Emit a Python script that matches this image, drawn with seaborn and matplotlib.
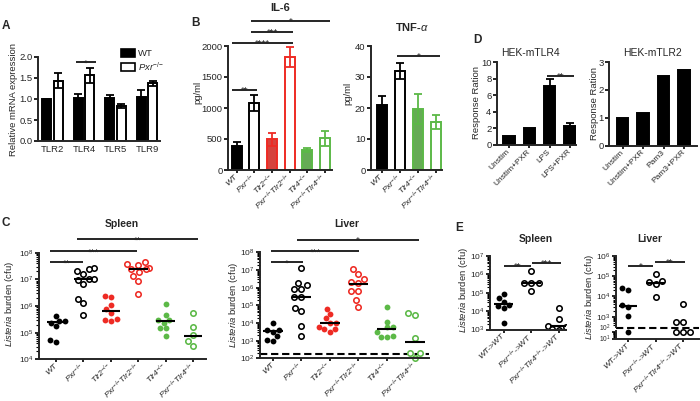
import numpy as np
import pandas as pd
import matplotlib
matplotlib.use("Agg")
import matplotlib.pyplot as plt
import seaborn as sns
from matplotlib.ticker import LogLocator, NullFormatter
from matplotlib.patches import Patch

# ---------------- data ----------------
A_genes = ["TLR2", "TLR4", "TLR5", "TLR9"]
A_wt = [1.00, 1.02, 1.03, 1.05]
A_wt_err = [0.005, 0.10, 0.06, 0.17]
A_pxr = [1.43, 1.56, 0.83, 1.37]
A_pxr_err = [0.18, 0.18, 0.04, 0.06]

KO = r"$^{{-}/{-}}$"
B_groups = ["WT", "Pxr", "Tlr2", "PxrTlr2", "Tlr4", "PxrTlr4"]
B_labels = ["WT", "Pxr" + KO, "Tlr2" + KO, "Pxr" + KO + "Tlr2" + KO,
            "Tlr4" + KO, "Pxr" + KO + "Tlr4" + KO]
IL6_vals = [390, 1075, 495, 1825, 330, 510]
IL6_err = [55, 130, 105, 160, 32, 120]

TNF_groups = ["WT", "Pxr", "Tlr4", "PxrTlr4"]
TNF_labels = ["WT", "Pxr" + KO, "Tlr4" + KO, "Pxr" + KO + "Tlr4" + KO]
TNF_vals = [20.9, 31.9, 19.7, 15.5]
TNF_err = [3.0, 2.6, 4.8, 2.2]

D1_conds = ["Unstim", "Unstim+PXR", "LPS", "LPS+PXR"]
D1_vals = [1.1, 2.0, 7.15, 2.33]
D1_err = [0.0, 0.0, 0.8, 0.37]
D2_conds = ["Unstim", "Unstim+PXR", "Pam3", "Pam3+PXR"]
D2_vals = [1.0, 1.17, 2.51, 2.73]

# C: Listeria burden (cfu)
spleen_WT = [2.8e5, 4.4e5, 2.3e5, 1.8e5, 2.75e5, 4.4e4, 5.4e4]
spleen_Pxr = [2.75e7, 2.0e7, 2.4e7, 1.55e7, 1.0e7, 1.02e7, 0.98e7, 6.8e6, 1.8e6, 1.25e6, 4.7e5]
spleen_Tlr2 = [2.4e6, 2.25e6, 1.1e6, 7.8e5, 3.2e5, 2.75e5, 3.0e5, 5.6e5]
spleen_PxrTlr2 = [4.4e7, 3.7e7, 3.4e7, 2.6e7, 2.4e7, 2.4e7, 1.86e7, 1.35e7, 8.9e6, 2.75e6]
spleen_Tlr4 = [1.2e6, 4.7e5, 3.0e5, 3.0e5, 2.4e5, 1.55e5, 1.48e5, 7.6e4]
spleen_PxrTlr4 = [5.4e5, 1.7e5, 8.3e4, 5.0e4, 3.2e4]
spleen_medians = [2.6e5, 1.0e7, 6.6e5, 2.5e7, 2.7e5, 7.8e4]

liver_WT = [1.0e4, 4.0e3, 3.2e3, 4.0e3, 1.0e3, 1.1e3, 1.8e3]
liver_Pxr = [1.35e7, 1.4e6, 1.8e6, 8.1e5, 8.1e5, 3.1e5, 3.1e5, 4.8e4, 7.4e4, 6.8e3, 1.8e3]
liver_Tlr2 = [6.2e4, 3.2e4, 1.8e4, 1.05e4, 1.0e4, 5.6e3, 4.4e3, 4.4e3, 3.2e3]
liver_PxrTlr2 = [1.1e7, 5.6e6, 3.0e6, 2.2e6, 1.8e6, 6.5e5, 6.5e5, 2.0e5, 8.3e4]
liver_Tlr4 = [8.3e4, 1.2e4, 5.6e3, 5.6e3, 3.2e3, 1.7e3, 1.7e3, 1.8e3]
liver_PxrTlr4 = [3.8e4, 2.8e4, 1.5e3, 200, 200, 100]
liver_medians = [3.5e3, 3.1e5, 1.05e4, 1.6e6, 4.5e3, 8.5e2]
liver_limit = 175

# E: bone-marrow chimeras
E_groups = ["WT>WT", "Pxr>WT", "PxrTlr4>WT"]
E_labels = ["WT->WT", "Pxr" + KO + "->WT", "Pxr" + KO + "Tlr4" + KO + "->WT"]
Esp_WT = [9.1e4, 5.5e4, 3.2e4, 2.1e4, 1.85e4, 1.4e4, 2.4e3]
Esp_Pxr = [1.5e6, 3.2e5, 3.2e5, 3.4e5, 1.26e5]
Esp_PxrTlr4 = [1.4e4, 3.6e3, 1.8e3, 1.4e3, 1.6e3, 1.0e3, 1.05e3]
Esp_medians = [2.3e4, 3.2e5, 1.5e3]
Eli_WT = [2.7e4, 2.1e4, 3.1e3, 3.7e3, 1.07e3, 110]
Eli_Pxr = [1.25e5, 5.0e4, 4.0e4, 6.0e4, 9.8e3]
Eli_PxrTlr4 = [4.1e3, 560, 560, 110, 110, 110]
Eli_medians = [3.2e3, 4.8e4, None]
Eli_limit = 10 ** 2.42

# ---------------- style ----------------
sns.set_theme(style="ticks")
plt.rcParams["font.family"] = ["Liberation Sans", "DejaVu Sans"]
plt.rcParams["mathtext.fontset"] = "custom"
plt.rcParams["mathtext.rm"] = "Liberation Sans"
plt.rcParams["mathtext.it"] = "Liberation Sans:italic"
plt.rcParams["mathtext.bf"] = "Liberation Sans:bold"
plt.rcParams["axes.linewidth"] = 1.4

RED = "#ee2b24"
GREEN = "#5cb947"
W, H = 700, 401
FS = 6.8
FSLOG = 6.0
FSX = 6.0

fig = plt.figure(figsize=(7.0, 4.01), dpi=100)


def axpx(x0, y0, x1, y1):
    return fig.add_axes([x0 / W, 1 - y1 / H, (x1 - x0) / W, (y1 - y0) / H])


def style(ax, bottom=True, ysize=FS):
    sns.despine(ax=ax)
    ax.spines["left"].set_linewidth(1.4)
    ax.spines["bottom"].set_linewidth(1.4)
    if not bottom:
        ax.spines["bottom"].set_visible(False)
    ax.tick_params(axis="both", which="major", length=3, width=1.2,
                   labelsize=ysize, pad=1, direction="out", color="black")
    ax.set_xlabel("")
    ax.set_ylabel("")


def ftext(x, y, s, **kw):
    fig.text(x / W, 1 - y / H, s, ha="center", va="center", **kw)


def sig(ax, x1, x2, y, s):
    ax.plot([x1, x2], [y, y], color="black", lw=1.2, clip_on=False,
            solid_capstyle="butt")
    ax.annotate(s, xy=((x1 + x2) / 2, y), xytext=(0, -2.3),
                textcoords="offset points", ha="center", va="baseline",
                fontsize=FS, annotation_clip=False)


def xlabels(ax, labels, italic=True):
    ax.set_xticks(range(len(labels)))
    ax.set_xticklabels(labels, rotation=45, ha="right", va="center",
                       rotation_mode="anchor",
                       fontstyle="italic" if italic else "normal", fontsize=FSX)
    ax.tick_params(axis="x", length=2.5, pad=1.5)


def log_axis(ax, lo, hi):
    ax.set_yscale("log")
    ax.set_ylim(lo, hi)
    ax.yaxis.set_major_locator(LogLocator(base=10, numticks=20))
    ax.yaxis.set_minor_locator(LogLocator(base=10, subs=np.arange(2, 10), numticks=20))
    ax.yaxis.set_minor_formatter(NullFormatter())
    ax.tick_params(axis="y", which="minor", length=2.0, width=0.8, color="black")


def bar_panel(ax, keys, vals, errs, fills, edges, width):
    df = pd.DataFrame({"g": keys, "v": vals})
    sns.barplot(data=df, x="g", y="v", hue="g", order=keys, hue_order=keys,
                palette=dict(zip(keys, fills)), legend=False, width=width,
                linewidth=1.4, edgecolor="black", errorbar=None, ax=ax)
    for p, ec in zip(ax.patches, edges):
        p.set_edgecolor(ec)
    for i, (v, e) in enumerate(zip(vals, errs)):
        if e > 0:
            ax.errorbar(i, v, yerr=e, fmt="none", ecolor=edges[i], elinewidth=1.3,
                        capsize=2.6, capthick=1.3, zorder=3)


def swarm_panel(ax, keys, lists, colors, filled, medians):
    for k, vals, c, f in zip(keys, lists, colors, filled):
        if len(vals):
            df = pd.DataFrame({"g": [k] * len(vals), "v": vals})
            if f:
                sns.swarmplot(data=df, x="g", y="v", order=keys, color=c, size=4.2,
                              linewidth=0, log_scale=True, ax=ax, zorder=2)
            else:
                sns.swarmplot(data=df, x="g", y="v", order=keys, color="white",
                              edgecolor=c, linewidth=1.15, size=3.9,
                              log_scale=True, ax=ax, zorder=2)
    for i, m in enumerate(medians):
        if m is not None:
            ax.hlines(m, i - 0.34, i + 0.34, color="black", lw=1.5, zorder=4)


# ---------------- Panel A ----------------
axA = axpx(38, 57, 160, 141)
dfA = pd.DataFrame({"gene": A_genes * 2, "geno": ["WT"] * 4 + ["Pxr"] * 4,
                    "val": A_wt + A_pxr})
sns.barplot(data=dfA, x="gene", y="val", hue="geno", hue_order=["WT", "Pxr"],
            palette={"WT": "black", "Pxr": "white"}, edgecolor="black",
            linewidth=1.4, width=0.73, gap=0.2, errorbar=None, legend=False, ax=axA)
for p, v, e in zip(axA.patches, A_wt + A_pxr, A_wt_err + A_pxr_err):
    axA.errorbar(p.get_x() + p.get_width() / 2, v, yerr=e, fmt="none",
                 ecolor="black", elinewidth=1.3, capsize=2.6, capthick=1.3, zorder=3)
axA.set_ylim(0, 2.0)
axA.set_yticks([0, 0.5, 1.0, 1.5, 2.0])
axA.set_yticklabels(["0.0", "0.5", "1.0", "1.5", "2.0"])
axA.set_xlim(-0.46, 3.41)
style(axA)
axA.tick_params(axis="x", length=0, pad=3)
sig(axA, 0.75, 1.38, 1.87, "*")
leg = axA.legend(handles=[Patch(fc="black", ec="black", lw=1.2),
                          Patch(fc="white", ec="black", lw=1.2)],
                 labels=["WT", "Pxr" + KO], loc="upper left",
                 bbox_to_anchor=(121 / W, 1 - 49 / H), bbox_transform=fig.transFigure,
                 frameon=False, fontsize=FS, handlelength=1.5, handleheight=0.85,
                 handletextpad=0.25, labelspacing=0.2, borderpad=0, borderaxespad=0)
leg.get_texts()[1].set_fontstyle("italic")

# ---------------- Panel B ----------------
axB = axpx(228, 46, 332, 170)
bar_panel(axB, B_groups, IL6_vals, IL6_err,
          ["black", "white", RED, "white", GREEN, "white"],
          ["black", "black", RED, RED, GREEN, GREEN], 0.56)
axB.set_ylim(0, 2000)
axB.set_yticks([0, 500, 1000, 1500, 2000])
axB.set_xlim(-0.49, 5.4)
style(axB)
xlabels(axB, B_labels)
sig(axB, -0.27, 1.15, 1290, "**")
sig(axB, -0.25, 3.2, 2048, "****")
sig(axB, 0.81, 3.2, 2226, "***")
sig(axB, 0.81, 5.27, 2403, "*")

axT = axpx(371, 46, 442, 170)
bar_panel(axT, TNF_groups, TNF_vals, TNF_err,
          ["black", "white", GREEN, "white"],
          ["black", "black", GREEN, GREEN], 0.56)
axT.set_ylim(0, 40)
axT.set_yticks([0, 10, 20, 30, 40])
axT.set_xlim(-0.6, 3.36)
style(axT)
xlabels(axT, TNF_labels)
sig(axT, 0.87, 3.26, 36.8, "*")

# ---------------- Panel D ----------------
axD1 = axpx(497, 62, 576, 145)
bar_panel(axD1, D1_conds, D1_vals, D1_err, ["black"] * 4, ["black"] * 4, 0.57)
axD1.set_ylim(0, 10)
axD1.set_yticks([0, 2, 4, 6, 8, 10])
axD1.set_xlim(-0.59, 3.3)
style(axD1)
xlabels(axD1, D1_conds, italic=False)
sig(axD1, 1.86, 3.2, 8.34, "**")

axD2 = axpx(609, 62, 697, 145.5)
bar_panel(axD2, D2_conds, D2_vals, [0, 0, 0, 0], ["black"] * 4, ["black"] * 4, 0.57)
axD2.set_ylim(0, 3)
axD2.set_yticks([0, 1, 2, 3])
axD2.set_xlim(-0.66, 3.63)
style(axD2)
xlabels(axD2, D2_conds, italic=False)

# ---------------- Panel C ----------------
C_colors = ["black", "black", RED, RED, GREEN, GREEN]
C_filled = [True, False, True, False, True, False]

axCS = axpx(39, 252.7, 206, 359.3)
swarm_panel(axCS, B_groups,
            [spleen_WT, spleen_Pxr, spleen_Tlr2, spleen_PxrTlr2, spleen_Tlr4, spleen_PxrTlr4],
            C_colors, C_filled, spleen_medians)
log_axis(axCS, 1e4, 1e8)
axCS.set_xlim(-0.62, 5.47)
style(axCS, ysize=FSLOG)
xlabels(axCS, B_labels)
sig(axCS, -0.22, 0.98, 4.4e7, "**")
sig(axCS, -0.22, 2.97, 1.15e8, "***")
sig(axCS, 0.76, 5.18, 3.2e8, "**")

axCL = axpx(260, 252.3, 429, 358.3)
swarm_panel(axCL, B_groups,
            [liver_WT, liver_Pxr, liver_Tlr2, liver_PxrTlr2, liver_Tlr4, liver_PxrTlr4],
            C_colors, C_filled, liver_medians)
log_axis(axCL, 1e2, 1e8)
axCL.set_xlim(-0.46, 5.49)
axCL.axhline(liver_limit, color="black", lw=1.5, ls=(0, (3.5, 1.8)), zorder=1)
style(axCL, ysize=FSLOG)
xlabels(axCL, B_labels)
for c in axCL.collections:
    c.set_clip_on(False)
sig(axCL, -0.08, 1.05, 2.7e7, "*")
sig(axCL, -0.08, 3.03, 1.17e8, "***")
sig(axCL, 0.83, 5.15, 5.0e8, "*")

# ---------------- Panel E ----------------
axES = axpx(490, 256, 566, 329.5)
swarm_panel(axES, E_groups, [Esp_WT, Esp_Pxr, Esp_PxrTlr4],
            ["black"] * 3, [True, False, False], Esp_medians)
log_axis(axES, 1e3, 1e7)
axES.set_xlim(-0.49, 2.25)
style(axES, ysize=FSLOG)
xlabels(axES, E_labels)
sig(axES, 0.0, 0.98, 2.95e6, "**")
sig(axES, 1.01, 2.07, 4.3e6, "***")

cut = 300
axEU = axpx(616, 256, 699, 326.7)
axEL = axpx(616, 331, 699, 339)
E_li = [Eli_WT, Eli_Pxr, Eli_PxrTlr4]
swarm_panel(axEU, E_groups, [[v for v in l if v >= cut] for l in E_li],
            ["black"] * 3, [True, False, False], Eli_medians)
swarm_panel(axEL, E_groups, [[v for v in l if v < cut] for l in E_li],
            ["black"] * 3, [True, False, False], [None, None, None])
log_axis(axEU, 10 ** 2.5, 1e6)
log_axis(axEL, 10, 10 ** 2.14)
for a in (axEU, axEL):
    a.set_xlim(-0.44, 2.58)
    for c in a.collections:
        c.set_clip_on(False)
style(axEU, bottom=False, ysize=FSLOG)
axEU.set_xticks([])
style(axEL, ysize=4.8)
axEL.set_yticks([10, 100])
axEL.tick_params(axis="y", pad=0.5)
xlabels(axEL, E_labels)
ylbls = axEL.get_yticklabels()
ylbls[0].set_va("center")
ylbls[1].set_va("baseline")
axEU.axhline(Eli_limit, color="black", lw=1.5, ls=(0, (3.5, 1.8)), clip_on=False, zorder=1)
sig(axEU, 0.0, 0.92, 3.3e5, "*")
sig(axEU, 0.98, 2.07, 5.2e5, "**")

# ---------------- texts ----------------
for s, x, y in [("A", 6, 26), ("B", 195, 23), ("C", 5.5, 223), ("D", 477, 40), ("E", 459, 228)]:
    ftext(x, y, s, fontsize=8.5, fontweight="bold")
ftext(280, 8, "IL-6", fontsize=8, fontweight="bold")
ftext(412, 27, r"TNF-$\alpha$", fontsize=8, fontweight="bold")
ftext(530, 53.5, "HEK-mTLR4", fontsize=7.5)
ftext(653, 53.5, "HEK-mTLR2", fontsize=7.5)
ftext(122, 224, "Spleen", fontsize=7.5, fontweight="bold")
ftext(347, 224, "Liver", fontsize=7.5, fontweight="bold")
ftext(536, 239, "Spleen", fontsize=7.5, fontweight="bold")
ftext(650, 239, "Liver", fontsize=7.5, fontweight="bold")

ylab = r"$\mathit{Listeria}$ burden (cfu)"
for s, x, y in [("Relative mRNA expression", 14, 100), ("pg/ml", 198, 92),
                ("pg/ml", 348, 93), ("Response Ration", 476.5, 102.5),
                ("Response Ration", 594.5, 103), (ylab, 10, 304), (ylab, 233.5, 305),
                (ylab, 463, 290), (ylab, 589, 297)]:
    ftext(x, y, s, fontsize=FS, rotation=90)

fig.savefig("out.png", dpi=100)
